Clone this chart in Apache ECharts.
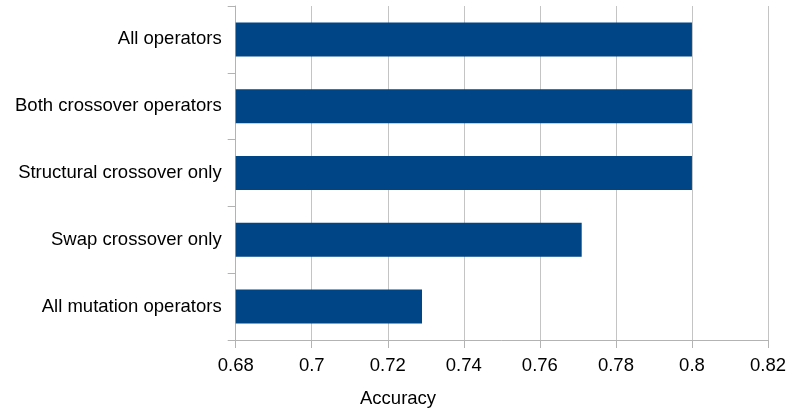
<!DOCTYPE html>
<html><head><meta charset="utf-8">
<script src="https://cdn.jsdelivr.net/npm/echarts@6/dist/echarts.min.js"></script>
<style>html,body{margin:0;padding:0;background:#fff}#c{width:789px;height:411px}</style>
</head><body><div id="c"></div>
<script>
const categories = ["All operators","Both crossover operators","Structural crossover only","Swap crossover only","All mutation operators"];
const accuracy = [0.8, 0.8, 0.8, 0.771, 0.729];
const xTicks = [0.68, 0.7, 0.72, 0.74, 0.76, 0.78, 0.8, 0.82];
const xTitle = 'Accuracy';

const chart = echarts.init(document.getElementById('c'), null, {renderer:'canvas'});
const gray = '#b3b3b3';
const ff = 'Liberation Sans, Arial, sans-serif';
chart.setOption({
  animation:false,
  textStyle:{fontFamily:ff},
  grid:{left:235.7, right:21, top:6, bottom:71, containLabel:false},
  graphic:[{
    type:'text', left:360, top:389,
    style:{text:xTitle, fill:'#000', font:'18.5px ' + ff}
  }],
  xAxis:{
    type:'value', min:xTicks[0], max:xTicks[xTicks.length-1], interval:0.02,
    axisLine:{show:true, lineStyle:{color:gray, width:1}},
    axisTick:{show:true, length:8, lineStyle:{color:gray}},
    axisLabel:{fontSize:18.5, color:'#000', margin:16, formatter:v=>String(parseFloat(v.toFixed(2)))},
    splitLine:{show:true, lineStyle:{color:'#c4c4c4', width:1}}
  },
  yAxis:{
    type:'category', data:categories, inverse:true,
    axisLine:{show:true, lineStyle:{color:gray, width:1}},
    axisTick:{show:true, length:8, lineStyle:{color:gray}},
    axisLabel:{fontSize:18.5, color:'#000', margin:14},
    splitLine:{show:false}
  },
  series:[{
    type:'bar', data:accuracy, barWidth:34,
    itemStyle:{color:'#004586'}
  }]
});
</script></body></html>
